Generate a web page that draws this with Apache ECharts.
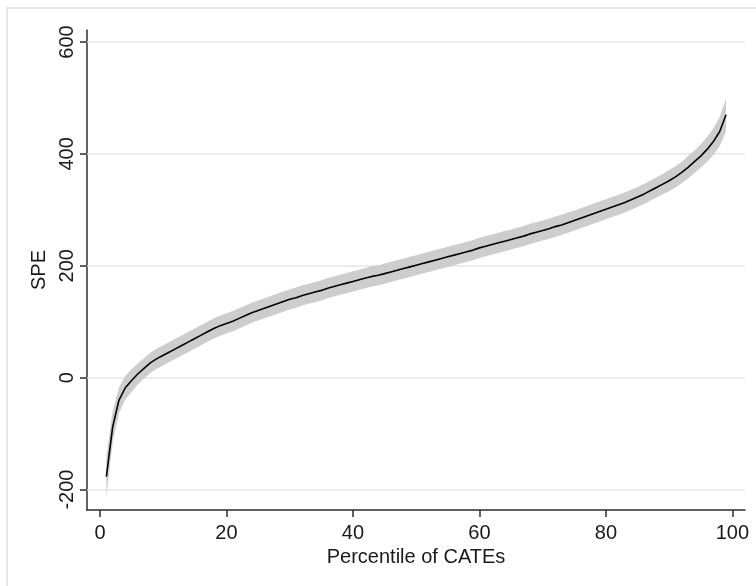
<!DOCTYPE html>
<html>
<head>
<meta charset="utf-8">
<script src="https://cdn.jsdelivr.net/npm/echarts@6/dist/echarts.min.js"></script>
<style>
html,body{margin:0;padding:0;background:#fff;}
#chart{width:756px;height:586px;}
</style>
</head>
<body>
<div id="chart"></div>
<script>
const percentiles = [1,2,3,4,5,6,7,8,9,10,11,12,13,14,15,16,17,18,19,20,21,22,23,24,25,26,27,28,29,30,31,32,33,34,35,36,37,38,39,40,41,42,43,44,45,46,47,48,49,50,51,52,53,54,55,56,57,58,59,60,61,62,63,64,65,66,67,68,69,70,71,72,73,74,75,76,77,78,79,80,81,82,83,84,85,86,87,88,89,90,91,92,93,94,95,96,97,98,99];
const spe = [-177,-88,-40,-18,-5,7,17,27,34,40,46,52,58,64,70,76,82,88,93,97,101,106,111,116,120,124,128,132,136,140,143,147,150,153,156,160,163,166,169,172,175,178,181,183,186,189,192,195,198,201,204,207,210,213,216,219,222,225,228,232,235,238,241,244,247,250,253,257,260,263,266,270,273,277,281,285,289,293,297,301,305,309,313,318,323,328,334,340,346,352,359,367,376,386,396,408,422,440,470];
const speLower = [-213,-116,-63,-39,-25,-12,-1,9,16,22,28,34,40,46,52,58,64,70,75,79,83,88,93,98,102,106,110,114,118,122,125,129,132,135,138,142,145,148,151,154,157,160,163,165,168,171,174,177,180,183,186,189,192,195,198,201,204,207,210,214,217,220,223,226,229,232,235,239,242,245,248,252,255,259,263,267,271,275,279,283,287,291,295,300,305,310,316,322,328,333,340,348,356,366,375,386,398,414,440];
const speUpper = [-141,-60,-17,3,15,26,35,45,52,58,64,70,76,82,88,94,100,106,111,115,119,124,129,134,138,142,146,150,154,158,161,165,168,171,174,178,181,184,187,190,193,196,199,201,204,207,210,213,216,219,222,225,228,231,234,237,240,243,246,250,253,256,259,262,265,268,271,275,278,281,284,288,291,295,299,303,307,311,315,319,323,327,331,336,341,346,352,358,364,371,378,386,396,406,417,430,446,466,499];
const xTicks = [0,20,40,60,80,100];
const yTicks = [-200,0,200,400,600];

const chart = echarts.init(document.getElementById('chart'), null, {renderer:'canvas'});
const font = 'Liberation Sans, Arial, sans-serif';
const axisColor = '#2e2e2e';

const meanData = percentiles.map((p,i)=>[p, spe[i]]);
const bandData = percentiles.map((p,i)=>[p, speLower[i], speUpper[i]]);

chart.setOption({
  animation:false,
  backgroundColor:'#ffffff',
  graphic:[{
    type:'rect', silent:true, z:-1,
    shape:{x:7, y:8, width:900, height:700},
    style:{fill:null, stroke:'#dedede', lineWidth:1.5}
  }],
  grid:{left:87, top:30, width:658, height:480, containLabel:false},
  xAxis:{
    type:'value', min:-2.06, max:102.0,
    name:'Percentile of CATEs', nameLocation:'middle', nameGap:32,
    nameTextStyle:{fontFamily:font, fontSize:20, color:'#1a1a1a'},
    axisLine:{show:true, onZero:false, lineStyle:{color:axisColor, width:1.5}},
    axisTick:{show:true, length:7, customValues:xTicks, lineStyle:{color:axisColor, width:1.5}},
    axisLabel:{customValues:xTicks, margin:13, fontFamily:font, fontSize:20, color:'#1a1a1a'},
    splitLine:{show:false}
  },
  yAxis:{
    type:'value', min:-236.5, max:621.4,
    name:'SPE', nameLocation:'middle', nameGap:33, nameRotate:90,
    nameTextStyle:{fontFamily:font, fontSize:20, color:'#1a1a1a'},
    axisLine:{show:true, onZero:false, lineStyle:{color:axisColor, width:1.5}},
    axisTick:{show:true, length:7, customValues:yTicks, lineStyle:{color:axisColor, width:1.5}},
    axisLabel:{customValues:yTicks, rotate:90, margin:10, fontFamily:font, fontSize:20, color:'#1a1a1a'},
    splitLine:{show:false}
  },
  series:[
    {
      type:'line', data:[], z:1, silent:true,
      markLine:{
        silent:true, symbol:'none', z:1,
        label:{show:false},
        lineStyle:{color:'#e6e6e6', width:1.5, type:'solid'},
        data: yTicks.map(v=>({yAxis:v}))
      }
    },
    {
      type:'custom', z:2, silent:true,
      data: bandData,
      encode:{x:0, y:[1,2]},
      renderItem:function(params, api){
        if (params.dataIndex !== 0) return null;
        const pts = [];
        for (let i=0;i<bandData.length;i++) pts.push(api.coord([bandData[i][0], bandData[i][2]]));
        for (let i=bandData.length-1;i>=0;i--) pts.push(api.coord([bandData[i][0], bandData[i][1]]));
        return {type:'polygon', shape:{points:pts}, style:{fill:'#cdcdcd', stroke:null}};
      }
    },
    {
      type:'line', z:3, data:meanData, showSymbol:false, symbol:'none',
      lineStyle:{color:'#000000', width:1.6},
      silent:true
    }
  ]
});
</script>
</body>
</html>
